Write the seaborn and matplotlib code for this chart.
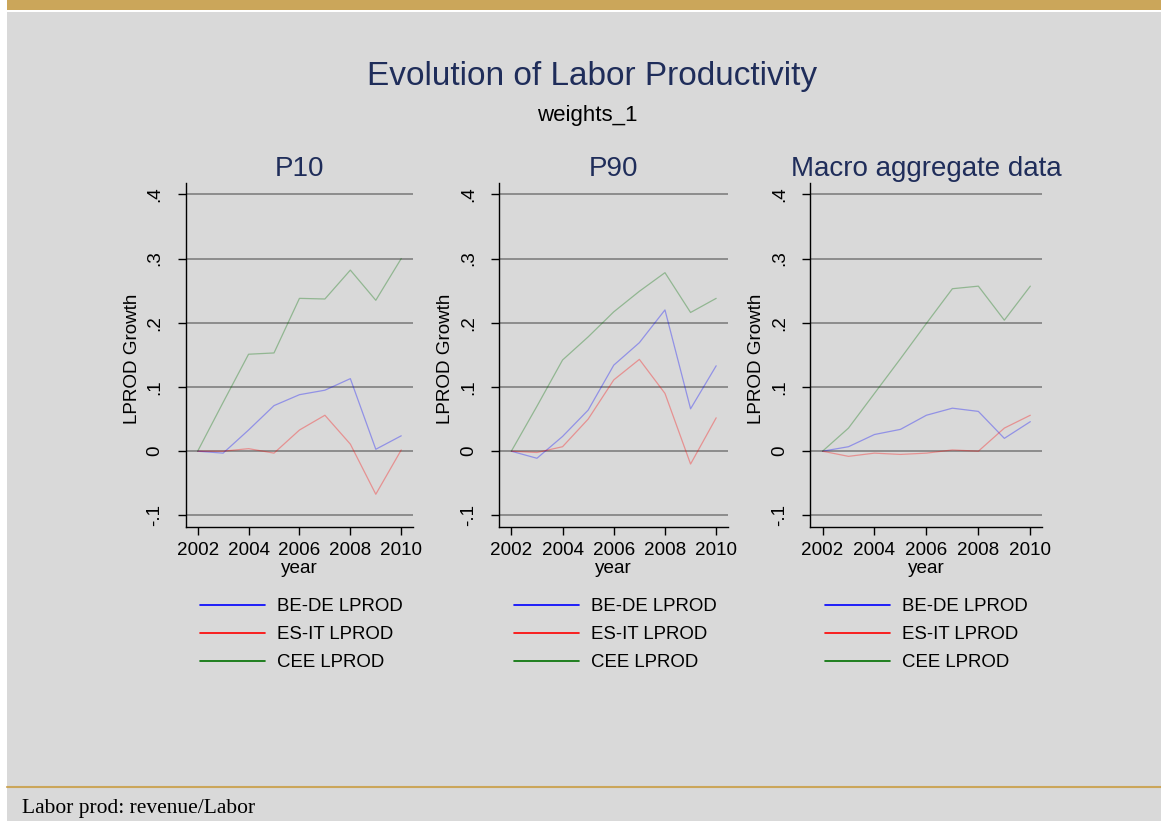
import numpy as np
import pandas as pd
import seaborn as sns
import matplotlib
matplotlib.use("Agg")
import matplotlib.pyplot as plt
from matplotlib.lines import Line2D
from matplotlib.patches import Rectangle

# ---------------- data ----------------
years = [2002, 2003, 2004, 2005, 2006, 2007, 2008, 2009, 2010]
panels = ["P10", "P90", "Macro aggregate data"]
series = ["BE-DE LPROD", "ES-IT LPROD", "CEE LPROD"]

p10_bede = [0.0, -0.003, 0.033, 0.071, 0.088, 0.095, 0.113, 0.003, 0.024]
p10_esit = [0.0, 0.0, 0.004, -0.003, 0.033, 0.056, 0.011, -0.067, 0.002]
p10_cee = [0.0, 0.076, 0.151, 0.153, 0.238, 0.237, 0.282, 0.235, 0.300]

p90_bede = [0.0, -0.011, 0.023, 0.064, 0.134, 0.169, 0.220, 0.066, 0.133]
p90_esit = [0.0, -0.002, 0.007, 0.050, 0.111, 0.143, 0.090, -0.020, 0.052]
p90_cee = [0.0, 0.070, 0.142, 0.178, 0.217, 0.249, 0.278, 0.216, 0.238]

macro_bede = [0.0, 0.007, 0.026, 0.034, 0.056, 0.067, 0.062, 0.020, 0.046]
macro_esit = [0.0, -0.008, -0.003, -0.005, -0.003, 0.002, 0.0, 0.036, 0.056]
macro_cee = [0.0, 0.036, 0.090, 0.144, 0.199, 0.253, 0.257, 0.204, 0.257]

yticks = [-0.1, 0.0, 0.1, 0.2, 0.3, 0.4]
ytick_labels = ["-.1", "0", ".1", ".2", ".3", ".4"]
xticks = [2002, 2004, 2006, 2008, 2010]

panel_data = {
    "P10": [p10_bede, p10_esit, p10_cee],
    "P90": [p90_bede, p90_esit, p90_cee],
    "Macro aggregate data": [macro_bede, macro_esit, macro_cee],
}

rows = []
for p in panels:
    for s, vals in zip(series, panel_data[p]):
        for y, v in zip(years, vals):
            rows.append({"panel": p, "series": s, "year": y, "value": v})
df = pd.DataFrame(rows)

# ---------------- style ----------------
sns.set_theme(style="white")
plt.rcParams["font.family"] = ["Liberation Sans", "DejaVu Sans"]
plt.rcParams["text.color"] = "black"
plt.rcParams["axes.labelcolor"] = "black"
plt.rcParams["xtick.color"] = "black"
plt.rcParams["ytick.color"] = "black"

BG = "#D9D9D9"
GOLD = "#CBA65A"
NAVY = "#1F2D5A"
palette = {"BE-DE LPROD": "#0000FF", "ES-IT LPROD": "#FF0000", "CEE LPROD": "#007000"}

W, H = 1161, 821
fig = plt.figure(figsize=(W / 100, H / 100), dpi=100)
fig.patch.set_facecolor("white")

# background decorations
fig.add_artist(Rectangle((7 / W, 0), 1 - 7 / W, 1 - 12 / H, transform=fig.transFigure,
                         facecolor=BG, edgecolor="none", zorder=-10))
fig.add_artist(Rectangle((7 / W, 1 - 10 / H), 1 - 7 / W, 10 / H, transform=fig.transFigure,
                         facecolor=GOLD, edgecolor="none", zorder=-9))
fig.add_artist(Line2D([7 / W, 1], [1 - 787 / H, 1 - 787 / H], transform=fig.transFigure,
                      color=GOLD, lw=1.5, zorder=-8))

fig.text(592 / W, 1 - 85 / H, "Evolution of Labor Productivity", ha="center", va="baseline",
         fontsize=24, color=NAVY)
fig.text(587 / W, 1 - 121.5 / H, "weights_1", ha="center", va="baseline", fontsize=16, color="black")
fig.text(22 / W, 1 - 808 / H, "Labor prod: revenue/Labor", ha="left", va="center",
         fontsize=15.5, color="black", family=["Liberation Serif", "DejaVu Serif"])

lefts = [185.7, 499.3, 810.3]
widths = [227.0, 228.4, 231.7]
ax_bottom = 1 - 527 / H
ax_height = (527 - 183) / H

for p, l, w in zip(panels, lefts, widths):
    ax = fig.add_axes([l / W, ax_bottom, w / W, ax_height])
    ax.set_facecolor(BG)
    sub = df[df["panel"] == p]
    sns.lineplot(data=sub, x="year", y="value", hue="series", palette=palette,
                 ax=ax, legend=False, lw=0.9, alpha=0.33)
    ax.set_xlim(2001.53, 2010.45)
    ax.set_ylim(-0.118, 0.4176)
    ax.set_yticks(yticks)
    ax.set_yticklabels(ytick_labels, rotation=90, va="center")
    ax.set_xticks(xticks)
    ax.set_xticklabels([str(x) for x in xticks])
    ax.tick_params(axis="y", direction="out", length=6, width=1, color="black",
                   labelcolor="black", labelsize=13.6, pad=10, left=True)
    ax.tick_params(axis="x", direction="out", length=6, width=1, color="black",
                   labelcolor="black", labelsize=13.6, pad=5, bottom=True)
    for sp in ["top", "right"]:
        ax.spines[sp].set_visible(False)
    for sp in ["left", "bottom"]:
        ax.spines[sp].set_color("black")
        ax.spines[sp].set_linewidth(1.0)
    ax.yaxis.grid(True, color="#7F7F7F", lw=1.2)
    ax.xaxis.grid(False)
    ax.set_axisbelow(True)
    ax.set_ylabel("LPROD Growth", fontsize=13.6, color="black")
    ax.yaxis.set_label_coords(-0.197, 0.488)
    ax.set_xlabel("year", fontsize=13.6, color="black")
    ax.xaxis.set_label_coords(0.5, -0.097)
    ax.set_title(p, fontsize=20, color=NAVY, pad=5)

    handles = [Line2D([], [], color=palette[s], lw=1.2) for s in series]
    leg = ax.legend(handles, series, loc="upper left",
                    bbox_to_anchor=(14.5 / w, -(598 - 527) / 344),
                    frameon=False, fontsize=13.4, handlelength=3.5, handletextpad=0.65,
                    labelspacing=0.6, borderpad=0, borderaxespad=0)
    for t in leg.get_texts():
        t.set_color("black")

fig.savefig("out.png", dpi=100, facecolor=fig.get_facecolor())
